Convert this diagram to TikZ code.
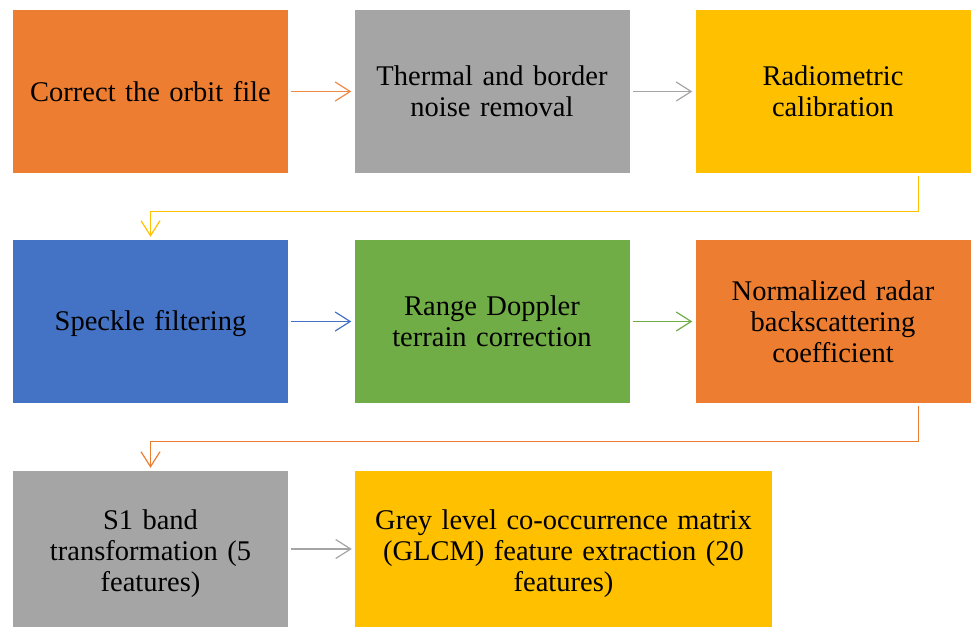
\documentclass[tikz,border=0pt]{standalone}
\usepackage{fontspec}
\setmainfont{Liberation Serif}
\usetikzlibrary{arrows.meta,calc}

\definecolor{cOrange}{HTML}{ED7D31}
\definecolor{cGrey}{HTML}{A5A5A5}
\definecolor{cGold}{HTML}{FFC000}
\definecolor{cBlue}{HTML}{4472C4}
\definecolor{cGreen}{HTML}{70AD47}

\tikzset{
  stepbox/.style={rectangle, inner sep=0pt, minimum height=163pt,
    minimum width=275pt, text width=250pt, align=center,
    font=\fontsize{28.5}{31}\selectfont, text=black},
  steptext/.style={inner sep=0pt, text width=400pt, align=center,
    font=\fontsize{28.5}{31}\selectfont, text=black},
  flow/.style={line width=1.2pt, shorten <=3pt, shorten >=3pt,
    -{Straight Barb[length=15pt,width=19pt,line width=1.2pt]}},
}

\begin{document}
\begin{tikzpicture}[x=1pt,y=-1pt]
\useasboundingbox (0,0) rectangle (971,627);

% first row
\node[stepbox, fill=cOrange] (b1) at (150.5,91.5) {Correct the orbit file};
\node[stepbox, fill=cGrey]   (b2) at (492,91.5)   {Thermal and border\\noise removal};
\node[stepbox, fill=cGold]   (b3) at (833,91.5)   {Radiometric\\calibration};

% second row
\node[stepbox, fill=cBlue]   (b4) at (150.5,321.5) {};
\node[steptext] (t4) at (150.5,323.5) {Speckle filtering};
\node[stepbox, fill=cGreen]  (b5) at (492,321.5)   {Range Doppler\\terrain correction};
\node[stepbox, fill=cOrange] (b6) at (833,321.5)   {Normalized radar\\backscattering\\coefficient};

% third row: boxes, with their text set a little below centre
\node[stepbox, fill=cGrey, minimum height=156pt] (b7) at (150.5,549) {};
\node[stepbox, fill=cGold, minimum height=156pt, minimum width=417pt] (b8) at (563.5,549) {};
\node[steptext] (t7) at (150.5,554) {S1 band\\transformation (5\\features)};
\node[steptext] (t8) at (563.5,554)
  {Grey level co-occurrence matrix\\(GLCM) feature extraction (20\\features)};

% connectors
\draw[flow, draw=cOrange!90] (b1) -- (b2);
\draw[flow, draw=cGrey]      (b2) -- (b3);
\draw[flow, draw=cGold]      ($(b3.south east)+(-52,0)$) -- ++(0,38) -| (b4.north);
\draw[flow, draw=cBlue]      (b4) -- (b5);
\draw[flow, draw=cGreen]     (b5) -- (b6);
\draw[flow, draw=cOrange]    ($(b6.south east)+(-52,0)$) -- ++(0,38) -| (b7.north);
\draw[flow, draw=cGrey]      (b7) -- (b8);
\end{tikzpicture}
\end{document}
